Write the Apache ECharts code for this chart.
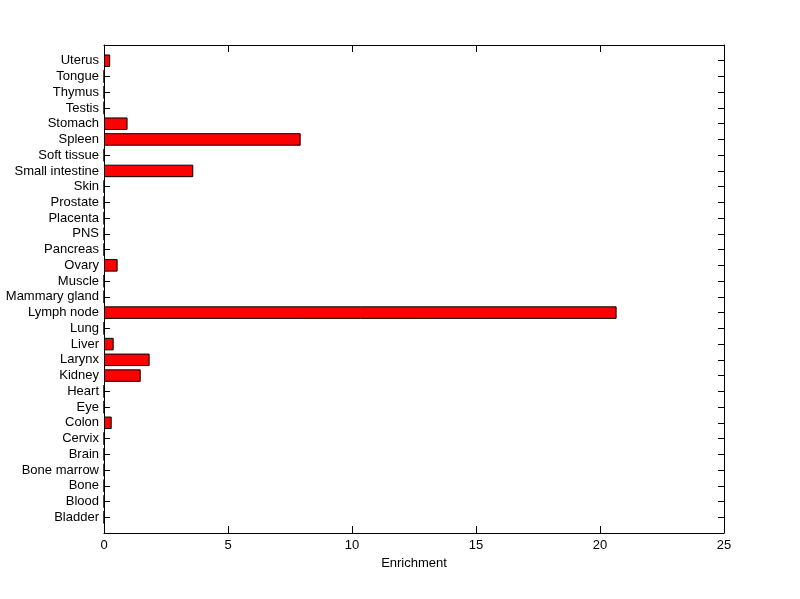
<!DOCTYPE html>
<html><head><meta charset="utf-8">
<script src="https://cdn.jsdelivr.net/npm/echarts@6/dist/echarts.min.js"></script>
<style>html,body{margin:0;padding:0;background:#fff}#c{width:800px;height:599px}</style>
</head><body><div id="c"></div>
<script>
const categories = ['Bladder','Blood','Bone','Bone marrow','Brain','Cervix','Colon','Eye','Heart','Kidney','Larynx','Liver','Lung','Lymph node','Mammary gland','Muscle','Ovary','Pancreas','PNS','Placenta','Prostate','Skin','Small intestine','Soft tissue','Spleen','Stomach','Testis','Thymus','Tongue','Uterus'];
const enrichment = [0,0,0,0,0,0,0.31,0,0,1.48,1.84,0.39,0,20.67,0,0,0.55,0,0,0,0,0,3.6,0,7.93,0.95,0,0,0,0.25];
const xMin = 0, xMax = 25, xStep = 5;
const xLabel = 'Enrichment';

const yCats = [''].concat(categories, ['']);
const yData = [null].concat(enrichment, [null]);
const font = 'Liberation Sans, Arial, Helvetica, sans-serif';

const chart = echarts.init(document.getElementById('c'), null, {renderer: 'canvas'});
const lineStyle = {color: '#000', width: 1};
chart.setOption({
  animation: false,
  backgroundColor: '#fff',
  grid: {left: 104, top: 45, width: 620, height: 488, containLabel: false},
  xAxis: [
    {type: 'value', position: 'bottom', min: xMin, max: xMax, interval: xStep,
     name: xLabel, nameLocation: 'middle', nameGap: 23,
     nameTextStyle: {color: '#000', fontSize: 13, fontFamily: font},
     axisLine: {show: true, lineStyle: lineStyle},
     axisTick: {show: true, inside: true, length: 7, lineStyle: lineStyle},
     axisLabel: {color: '#000', fontSize: 13, fontFamily: font, margin: 6},
     splitLine: {show: false}},
    {type: 'value', position: 'top', min: xMin, max: xMax, interval: xStep,
     axisLine: {show: true, lineStyle: lineStyle},
     axisTick: {show: true, inside: true, length: 7, lineStyle: lineStyle},
     axisLabel: {show: false}, splitLine: {show: false}}
  ],
  yAxis: [
    {type: 'category', position: 'left', data: yCats, boundaryGap: false,
     axisLine: {show: true, onZero: false, lineStyle: lineStyle},
     axisTick: {show: true, inside: true, length: 6, alignWithLabel: true, lineStyle: lineStyle},
     axisLabel: {color: '#000', fontSize: 13, fontFamily: font, margin: 5, interval: 0},
     splitLine: {show: false}},
    {type: 'category', position: 'right', data: yCats, boundaryGap: false,
     axisLine: {show: true, onZero: false, lineStyle: lineStyle},
     axisTick: {show: true, inside: true, length: 6, interval: 0, lineStyle: lineStyle},
     axisLabel: {show: false}, splitLine: {show: false}}
  ],
  series: [{
    type: 'bar', xAxisIndex: 0, yAxisIndex: 0, data: yData,
    barWidth: 12.5,
    itemStyle: {color: '#ff0000', borderColor: '#000', borderWidth: 1}
  }]
});
</script></body></html>
